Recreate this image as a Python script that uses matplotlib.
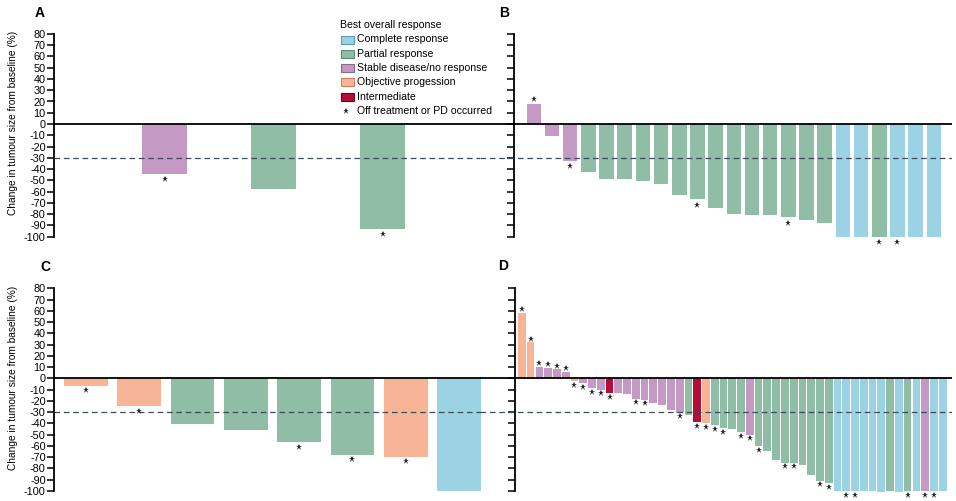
import matplotlib
matplotlib.use("Agg")
import matplotlib.pyplot as plt
from matplotlib.patches import Rectangle

plt.rcParams['font.family'] = ['Liberation Sans', 'DejaVu Sans']
plt.rcParams['axes.unicode_minus'] = False

# ---------------- data ----------------
colors = {
    'CR': '#9bd2e4',   # Complete response
    'PR': '#8fbda5',   # Partial response
    'SD': '#c49ac4',   # Stable disease/no response
    'OP': '#f8b496',   # Objective progession
    'INT': '#b40e38',  # Intermediate
}
legend_labels = ['Complete response', 'Partial response', 'Stable disease/no response',
                 'Objective progession', 'Intermediate']
legend_keys = ['CR', 'PR', 'SD', 'OP', 'INT']

A_values = [-44, -58, -93]
A_resp = ['SD', 'PR', 'PR']
A_star = [1, 0, 1]

B_values = [18, -11, -33, -43, -49, -49, -51, -53, -63, -67, -75, -80, -81, -81,
            -83, -85, -88, -100, -100, -100, -100, -100, -100]
B_resp = ['SD', 'SD', 'SD'] + ['PR'] * 14 + ['CR', 'CR', 'PR', 'CR', 'CR', 'CR']
B_star = [1, 0, 1, 0, 0, 0, 0, 0, 0, 1, 0, 0, 0, 0, 1, 0, 0, 0, 0, 1, 1, 0, 0]

C_values = [-6.5, -25, -41, -46, -57, -68, -70, -100]
C_resp = ['OP', 'OP', 'PR', 'PR', 'PR', 'PR', 'OP', 'CR']
C_star = [1, 1, 0, 0, 1, 1, 1, 0]

D_values = [58, 32, 10, 9, 8, 5.5, -2.5, -4, -9, -10, -13, -13, -14, -18, -19,
            -22, -23.5, -28, -30.5, -32.5, -39, -40, -41.5, -44, -45, -48, -50,
            -60, -64.5, -72.5, -75, -75, -77.5, -86, -91, -93,
            -100, -100, -100, -100, -100, -101.5, -100, -101.5, -100, -100, -100, -100, -100]
D_resp = ['OP', 'OP', 'SD', 'SD', 'SD', 'SD', 'OP', 'SD', 'SD', 'SD', 'INT', 'SD', 'SD',
          'SD', 'SD', 'SD', 'SD', 'SD', 'SD', 'PR', 'INT', 'OP', 'PR', 'PR', 'PR', 'PR',
          'SD', 'PR', 'PR', 'PR', 'PR', 'PR', 'PR', 'PR', 'PR', 'PR',
          'CR', 'CR', 'CR', 'CR', 'CR', 'CR', 'PR', 'CR', 'PR', 'CR', 'SD', 'CR', 'CR']
D_star = [1, 1, 1, 1, 1, 1, 1, 1, 1, 1, 1, 0, 0, 1, 1, 0, 0, 0, 1, 0, 1, 1, 1, 1, 0, 1,
          1, 1, 0, 0, 1, 1, 0, 0, 1, 1,
          0, 1, 1, 0, 0, 0, 0, 0, 1, 0, 1, 1, 0]

yticks = list(range(80, -101, -10))
ylabel = 'Change in tumour size from baseline (%)'

# ---------------- figure ----------------
W, H = 956, 501
fig = plt.figure(figsize=(W / 100, H / 100), dpi=100)
FS = 7.6
STAR_MS = 4.6


def px_axes(x0, x1, ytop, ybot):
    return fig.add_axes([x0 / W, 1 - ybot / H, (x1 - x0) / W, (ybot - ytop) / H])


def panel(ax, values, resp, star, xlim, width, spine_x, labels, star_off):
    n = len(values)
    xs = list(range(n))
    ax.bar(xs, values, width=width, color=[colors[r] for r in resp], zorder=2, linewidth=0)
    for x, v, s in zip(xs, values, star):
        if s:
            y = v + star_off if v > 0 else v - star_off
            ax.plot(x, y, marker='*', ms=STAR_MS, color='#222222', mew=0, zorder=4,
                    clip_on=False)
    ax.axhline(0, color='black', lw=1.3, zorder=3)
    ax.axhline(-30, color='#3b4b57', lw=0.9, ls=(0, (4.5, 3)), zorder=3)
    ax.set_xlim(*xlim)
    ax.set_ylim(-104, 82)
    for s in ['top', 'right', 'bottom']:
        ax.spines[s].set_visible(False)
    ax.spines['left'].set_bounds(-100, 80)
    ax.spines['left'].set_linewidth(1.3)
    ax.spines['left'].set_position(('data', spine_x))
    ax.set_xticks([])
    ax.set_yticks(yticks)
    ax.tick_params(axis='y', direction='out', length=5, width=1.1, pad=1,
                   labelsize=FS + 0.2, labelleft=labels)
    ax.patch.set_alpha(0)


# Panel A
axA = px_axes(54, 480, 31.7, 241.1)
panel(axA, A_values, A_resp, A_star, (-1.018, 2.894), 0.413, -1.018, True, 4.5)
# Panel B
axB = px_axes(480, 952, 31.7, 241.1)
panel(axB, B_values, B_resp, B_star, (-2.96, 23.0), 0.8, -1.089, False, 4.5)
# Panel C
axC = px_axes(54, 481, 286.05, 495.3)
panel(axC, C_values, C_resp, C_star, (-0.597, 7.41), 0.82, -0.597, True, 3.8)
# Panel D
axD = px_axes(480, 952, 286.05, 495.3)
panel(axD, D_values, D_resp, D_star, (-4.77, 49.06), 0.88, -0.775, False, 3.3)

# panel letters
for lab, x, y in [('A', 40, 13), ('B', 504, 13), ('C', 45, 267), ('D', 503, 266)]:
    fig.text(x / W, 1 - y / H, lab, fontsize=10, fontweight='bold', ha='center', va='center')

# y labels
fig.text(13 / W, 1 - 122.5 / H, ylabel, rotation=90, fontsize=FS - 0.3, ha='center', va='center')
fig.text(13 / W, 1 - 377.5 / H, ylabel, rotation=90, fontsize=FS - 0.3, ha='center', va='center')

# legend (manual)
fig.text(340 / W, 1 - 25 / H, 'Best overall response', fontsize=FS, ha='left', va='center')
row_y = [39.5, 53.8, 68.2, 82.0, 96.5]
edge = {'CR': '#5a9fb8', 'PR': '#5e8f74', 'SD': '#8e6a8e', 'OP': '#d4805e', 'INT': '#6e0020'}
for key, lab, ry in zip(legend_keys, legend_labels, row_y):
    fig.patches.append(Rectangle((341 / W, 1 - (ry + 4) / H), 13 / W, 8 / H,
                                 transform=fig.transFigure, facecolor=colors[key],
                                 edgecolor=edge[key], linewidth=0.8))
    fig.text(357 / W, 1 - ry / H, lab, fontsize=FS, ha='left', va='center')
fig.add_artist(plt.Line2D([346 / W], [1 - 110.5 / H], marker='*', ms=STAR_MS, color='#222222',
                          mew=0, transform=fig.transFigure))
fig.text(357 / W, 1 - 110.5 / H, 'Off treatment or PD occurred', fontsize=FS, ha='left', va='center')

fig.savefig('out.png', dpi=100)
